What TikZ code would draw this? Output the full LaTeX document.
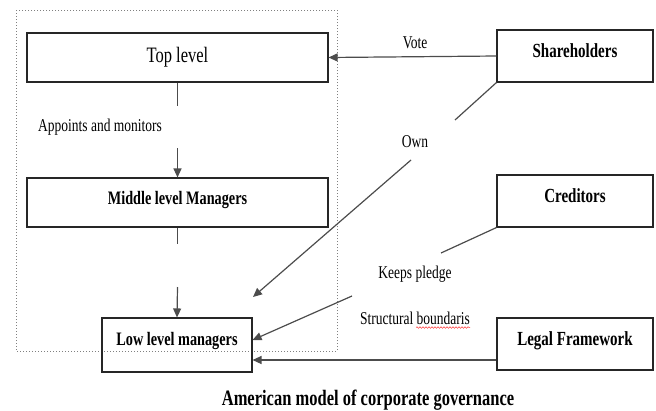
\documentclass[tikz,border=0pt]{standalone}
\usepackage{fontspec}
\setmainfont{Liberation Serif}[FakeStretch=0.75]
\usetikzlibrary{arrows.meta,decorations.pathmorphing}
\begin{document}
\begin{tikzpicture}[x=1pt,y=-1pt,
  box/.style={draw=black!85,line width=1.1pt,rectangle,inner sep=0pt},
  bigbox/.style={box,minimum width=301pt,minimum height=49pt},
  sidebox/.style={box,minimum width=156pt,minimum height=52pt,font=\fontsize{20}{22}\selectfont\bfseries,
    text height=13.2pt,text depth=10pt},
  lbl/.style={font=\fontsize{18}{20}\selectfont,inner sep=0pt},
  conn/.style={draw=black!70,line width=1.2pt},
  arr/.style={conn,-{Triangle[length=9pt,width=8pt]}}]
\useasboundingbox (0,0) rectangle (656,410);
\draw[gray,dotted,line width=1pt] (16,10) rectangle (337,351);

\node[bigbox,font=\fontsize{22}{24}\selectfont,text height=14.5pt,text depth=4pt] (top) at (177.5,57.5) {Top level};
\node[bigbox,font=\fontsize{19}{21}\selectfont\bfseries,text height=12.5pt,text depth=8pt] (mid) at (177.5,202.5) {Middle level Managers};
\node[box,minimum width=150pt,minimum height=54pt,font=\fontsize{19}{21}\selectfont\bfseries,
  text height=12.5pt,text depth=12pt] (low) at (177,345) {Low level managers};

\node[sidebox] (share) at (575,56) {Shareholders};
\node[sidebox] (cred) at (575,201) {Creditors};
\node[sidebox] (legal) at (575,344) {Legal Framework};

\coordinate (a1) at (177.5,106);
\coordinate (a2) at (177.5,148);
\coordinate (b1) at (177.5,244);
\coordinate (b2) at (177.5,287);
\coordinate (o1) at (455,120);
\coordinate (o2) at (411,160);
\coordinate (o3) at (253,297);
\coordinate (k1) at (441,253);
\coordinate (k2) at (352,296);

\draw[arr] (share.west) -- (top.east);
\node[lbl] (vote) at (415,43) {Vote};

\draw[conn] (top.south) -- (a1);
\draw[arr] (a2) -- (mid.north);
\node[lbl,anchor=west] (appoint) at (38,127) {Appoints and monitors};

\draw[conn] (mid.south) -- (b1);
\draw[arr] (b2) -- (low.north);

\draw[conn] (share.south west) -- (o1);
\node[lbl] (own) at (415,142) {Own};
\draw[arr] (o2) -- (o3);

\draw[conn] (cred.south west) -- (k1);
\node[lbl] (keeps) at (415,274) {Keeps pledge};
\draw[arr] (k2) -- ([yshift=5pt]low.east);

\node[lbl] (struct) at (415,318) {Structural boundaris};
\draw[red!80,line width=0.5pt,decorate,decoration={snake,amplitude=0.8pt,segment length=3pt}]
  ([xshift=-54pt,yshift=-3pt]struct.south east) -- ([yshift=-3pt]struct.south east);

\draw[arr] ([yshift=-16pt]legal.west) -- ([yshift=-15pt]low.east);

\node[font=\fontsize{22}{24}\selectfont\bfseries] (cap) at (368,400) {American model of corporate governance};
\end{tikzpicture}
\end{document}
